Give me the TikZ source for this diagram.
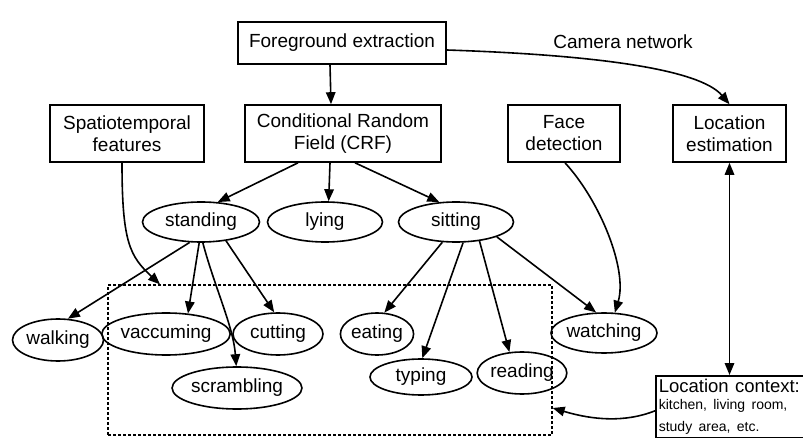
\documentclass[tikz,border=0pt]{standalone}
\usepackage{fontspec}
\setmainfont{Liberation Sans}
\usetikzlibrary{arrows.meta,shapes.geometric}

\begin{document}
\begin{tikzpicture}[x=1pt,y=-1pt,
  >={Triangle[length=12pt,width=9.5pt]},
  every node/.style={font=\fontsize{19}{22}\selectfont},
  box/.style={draw, line width=1.6pt, align=center, inner sep=0pt},
  act/.style={draw, ellipse, line width=1.6pt, inner sep=0pt},
  link/.style={line width=1.6pt, ->},
]
\path[use as bounding box, clip] (0,0) rectangle (803,438);

% processing blocks
\node[box, minimum width=208pt, minimum height=42pt] (fg) at (342,43) {Foreground extraction};
\node[box, minimum width=196pt, minimum height=57pt] (crf) at (343,133.5) {Conditional Random\\Field (CRF)};
\node[box, minimum width=154pt, minimum height=57pt] (st) at (127,133.5) {Spatiotemporal\\features};
\node[box, minimum width=112pt, minimum height=57pt] (face) at (564,133.5) {Face\\detection};
\node[box, minimum width=113pt, minimum height=57pt] (loc) at (729.5,133.5) {Location\\estimation};
\node (cam) at (623,42) {Camera network};

% region holding the activities that depend on location
\node[draw, dash pattern=on 3pt off 2pt, line width=1.3pt, minimum width=444pt,
      minimum height=150pt, inner sep=0pt] (region) at (330,360) {};

% postures
\node[act, minimum width=117pt, minimum height=40pt] (standing) at (201,222) {standing};
\node[act, minimum width=115pt, minimum height=40pt] (lying) at (325,222) {lying};
\node[act, minimum width=115pt, minimum height=40pt] (sitting) at (456,222) {sitting};

% activities
\node[act, minimum width=91pt, minimum height=42pt] (walking) at (58,340) {walking};
\node[act, minimum width=112pt, minimum height=42pt] (vaccuming) at (166,334) {vaccuming};
\node[act, minimum width=90pt, minimum height=42pt] (cutting) at (278,334) {cutting};
\node[act, minimum width=114pt, minimum height=42pt] (scrambling) at (237,388) {scrambling};
\node[act, minimum width=70pt, minimum height=42pt] (eating) at (377,334) {eating};
\node[act, minimum width=102pt, minimum height=36pt] (typing) at (421,377) {typing};
\node[act, minimum width=81pt, minimum height=42pt] (reading) at (522,373) {reading};
\node[act, minimum width=102pt, minimum height=40pt] (watching) at (604,333) {watching};

% location context
\node[box, anchor=north west, text width=150pt, inner xsep=3pt, minimum height=62pt, align=left] (lctx) at (655,375)
  {{\fontsize{18.5}{20}\selectfont Location context:}\\{\fontsize{14}{17}\selectfont kitchen, living room,\\study area, etc.}};

% connectors
\draw[link] ([xshift=-12pt]fg.south) -- ([xshift=-12pt]crf.north);
\draw[link] ([yshift=-7pt]fg.east) .. controls +(150,5) and +(-30,-35) .. (loc.north);
\draw[link] ([xshift=-5pt]st.south) .. controls +(0,80) and +(-30,-28) .. ([xshift=-170pt]region.north);

\draw[link] ([xshift=-45pt]crf.south) -- (standing.50);
\draw[link] ([xshift=-13pt]crf.south) -- (lying.80);
\draw[link] ([xshift=12pt]crf.south) -- (sitting.130);

\draw[link] (standing.-119) -- (walking.65);
\draw[link] (standing.-95) -- (vaccuming.43);
\draw[link] (standing.-85) .. controls +(12,45) and +(-3,-40) .. (scrambling.92);
\draw[link] (standing.-37) -- (cutting.100);

\draw[link] (sitting.-124) -- (eating.71);
\draw[link] (sitting.-71) -- (typing.86);
\draw[link] (sitting.-39) -- (reading.121);
\draw[link] (sitting.-20) -- (watching.111);

\draw[link] ([xshift=1pt]face.south) .. controls +(35,38) and +(13,-43) .. (watching.62);

\draw[line width=1.6pt, <->] (loc.south) -- (loc.south |- lctx.north);
\draw[link] ([yshift=-4pt]lctx.west) .. controls +(-30,12) and +(40,12) .. ([yshift=-48pt]region.east);
\end{tikzpicture}
\end{document}
